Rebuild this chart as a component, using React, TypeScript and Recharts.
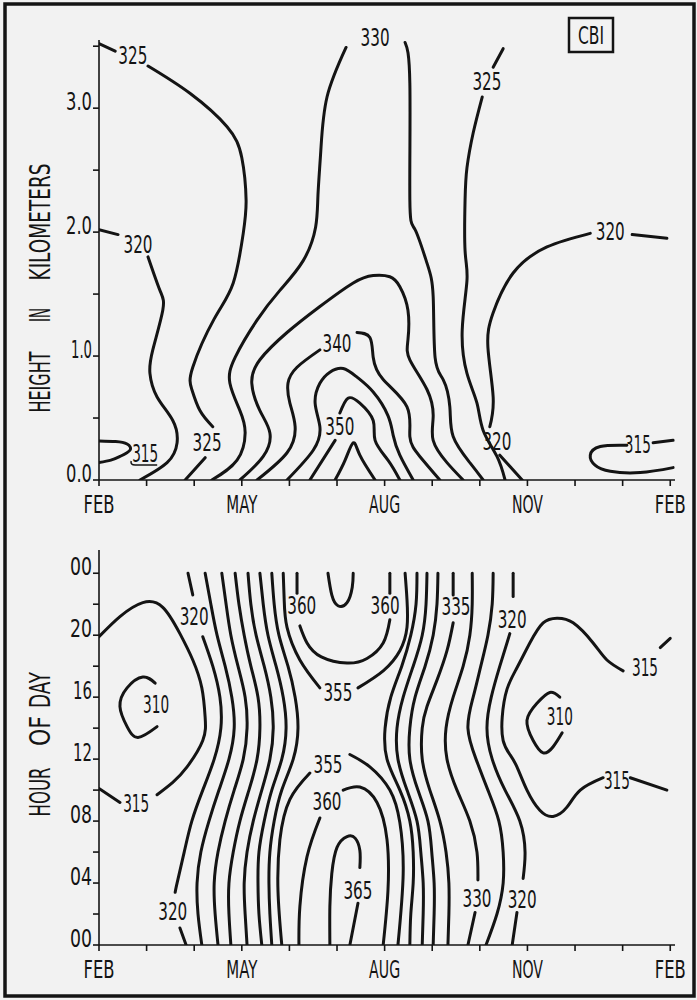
import React from 'react';
import { ComposedChart, Line, XAxis, YAxis, ReferenceDot } from 'recharts';

type P = [number, number];

const FONT = "'Liberation Sans Narrow', 'DejaVu Sans Condensed', 'Arial Narrow', sans-serif";
const INK = '#141414';
const BG = '#f2f2f2';

// x: months after FEB (0 = FEB, 3 = MAY, 6 = AUG, 9 = NOV, 12 = FEB)
const monthTicks = [0, 1, 2, 3, 4, 5, 6, 7, 8, 9, 10, 11, 12];
const monthLabels: Record<number, string> = { 0: 'FEB', 3: 'MAY', 6: 'AUG', 9: 'NOV', 12: 'FEB' };

const heightTicks = [0, 0.5, 1, 1.5, 2, 2.5, 3, 3.5];
const heightLabels: Record<number, string> = { 0: '0.0', 1: '1.0', 2: '2.0', 3: '3.0' };

const hourTicks = [0, 2, 4, 6, 8, 10, 12, 14, 16, 18, 20, 22, 24];
const hourLabels: Record<number, string> = { 0: '00', 4: '04', 8: '08', 12: '12', 16: '16', 20: '20', 24: '00' };

// ---------- TOP PANEL: height (km) contours ----------
const top320a: P[] = [[0, 2.02], [0.4, 1.98]];
const top320b: P[] = [[1.03, 1.8], [1.28, 1.53], [1.34, 1.37], [1.13, 1.05], [1.07, 0.86], [1.22, 0.67], [1.55, 0.48], [1.64, 0.3], [1.43, 0.14], [0.86, 0]];
const top315L: P[] = [[0, 0.315], [0.35, 0.31], [0.59, 0.29], [0.65, 0.24], [0.44, 0.19], [0.25, 0.16], [0, 0.14]];
const top325a: P[] = [[0, 3.52], [0.34, 3.46]];
const top325b: P[] = [[1.03, 3.34], [1.91, 3.12], [2.69, 2.85], [3.0, 2.6], [3.09, 2.26], [3.03, 1.99], [2.82, 1.59], [2.42, 1.3], [1.97, 0.91], [1.95, 0.73], [2.12, 0.56], [2.39, 0.43]];
const top325c: P[] = [[2.23, 0.18], [1.81, 0]];
const top330L: P[] = [[5.19, 3.49], [4.79, 3.09], [4.66, 2.66], [4.6, 2.3], [4.55, 2.04], [4.29, 1.77], [3.8, 1.53], [3.32, 1.29], [2.86, 0.99], [2.75, 0.78], [2.96, 0.56], [3.07, 0.38], [2.9, 0.16], [2.37, 0]];
const top330R: P[] = [[6.43, 3.53], [6.53, 3.2], [6.53, 2.26], [6.64, 2.02], [6.89, 1.75], [7.02, 1.48], [7.06, 0.99], [7.23, 0.81], [7.37, 0.59], [7.44, 0.35], [7.79, 0.14], [8.07, 0]];
const top335: P[] = [[2.96, 0], [3.45, 0.19], [3.59, 0.38], [3.38, 0.56], [3.21, 0.78], [3.38, 0.97], [3.95, 1.19], [4.64, 1.4], [5.34, 1.59], [5.76, 1.65], [6.11, 1.64], [6.32, 1.56], [6.49, 1.37], [6.49, 1.13], [6.53, 0.97], [6.89, 0.73], [7.02, 0.51], [7.02, 0.32], [7.31, 0.14], [7.65, 0]];
const top340a: P[] = [[3.32, 0], [3.95, 0.22], [4.12, 0.43], [4.01, 0.62], [3.97, 0.78], [4.16, 0.91], [4.64, 1.05]];
const top340b: P[] = [[5.42, 1.19], [5.69, 1.15], [5.76, 0.99], [5.97, 0.81], [6.47, 0.59], [6.53, 0.35], [6.74, 0.19], [7.16, 0]];
const top345: P[] = [[3.95, 0], [4.5, 0.24], [4.64, 0.43], [4.54, 0.62], [4.64, 0.78], [4.85, 0.87], [5.13, 0.9], [5.42, 0.83], [5.76, 0.71], [6.07, 0.52], [6.18, 0.36], [6.32, 0.2], [6.6, 0]];
const top350a: P[] = [[5.06, 0.54], [5.23, 0.66], [5.48, 0.62], [5.76, 0.48], [5.8, 0.32], [6.07, 0.16], [6.32, 0]];
const top350b: P[] = [[4.96, 0.32], [4.43, 0]];
const top355: P[] = [[4.96, 0], [5.17, 0.16], [5.34, 0.3], [5.48, 0.2], [5.8, 0]];
const top325Ra: P[] = [[8.49, 3.48], [8.28, 3.33]];
const top325Rb: P[] = [[8.05, 3.09], [7.86, 2.8], [7.73, 2.52], [7.69, 2.26], [7.69, 1.85], [7.73, 1.61], [7.63, 1.21], [7.73, 0.86], [7.94, 0.62], [8.07, 0.4], [8.36, 0.19], [8.53, 0]];
const top320Ra: P[] = [[8.89, 0], [8.42, 0.2]];
const top320Rb: P[] = [[8.21, 0.43], [8.28, 0.67], [8.17, 1.07], [8.28, 1.35], [8.7, 1.67], [9.41, 1.88], [10.32, 1.99]];
const top320Rc: P[] = [[11.2, 1.98], [11.93, 1.95]];
const top315Ra: P[] = [[12.06, 0.32], [11.64, 0.3]];
const top315Rb: P[] = [[11.09, 0.28], [10.53, 0.27], [10.32, 0.2], [10.42, 0.12], [10.74, 0.07], [11.37, 0.06], [12.06, 0.1]];

const topLines: P[][] = [
  top320a, top320b, top315L, top325a, top325b, top325c, top330L, top330R, top335,
  top340a, top340b, top345, top350a, top350b, top355, top325Ra, top325Rb,
  top320Ra, top320Rb, top320Rc, top315Ra, top315Rb,
];

const topLabelX = [0.71, 0.82, 0.97, 2.27, 5.8, 5.0, 5.06, 8.15, 8.36, 10.74, 11.32];
const topLabelY = [3.42, 1.9, 0.21, 0.3, 3.57, 1.1, 0.43, 3.21, 0.31, 2.0, 0.28];
const topLabelText = ['325', '320', '315', '325', '330', '340', '350', '325', '320', '320', '315'];
const topLabelUnderline = [false, false, true, false, false, false, false, false, false, false, false];

// ---------- BOTTOM PANEL: hour-of-day contours ----------
const bot315La: P[] = [[0, 19.9], [0.44, 21.2], [0.92, 22.1], [1.34, 21.8], [1.7, 20.1], [1.97, 18.4], [2.16, 16.6], [2.23, 14.7], [2.18, 13.2], [1.85, 11.5], [1.55, 10.5], [1.22, 9.7]];
const bot315Lb: P[] = [[0.44, 9.2], [0, 10.1]];
const bot310L: P[] = [[1.18, 16.9], [0.92, 17.3], [0.59, 16.6], [0.44, 15.4], [0.59, 14.1], [0.82, 13.4], [1.22, 14.1]];
const bot320La: P[] = [[1.87, 24], [1.97, 22.6]];
const bot320Lb: P[] = [[2.18, 19.9], [2.39, 18], [2.54, 16], [2.56, 14], [2.42, 12], [2.18, 10], [1.95, 8], [1.79, 6], [1.64, 4], [1.6, 3.4]];
const bot320Lc: P[] = [[1.7, 1.1], [1.83, 0]];
const bot325L: P[] = [[2.23, 24], [2.35, 22], [2.48, 20], [2.65, 18], [2.79, 16], [2.84, 14], [2.73, 12], [2.52, 10], [2.31, 8], [2.14, 6], [2.06, 4], [2.08, 2], [2.16, 0]];
const bot330L: P[] = [[2.58, 24], [2.67, 22], [2.77, 20], [2.92, 18], [3.07, 16], [3.11, 14], [3.03, 12], [2.84, 10], [2.65, 8], [2.5, 6], [2.42, 4], [2.44, 2], [2.5, 0]];
const bot335L: P[] = [[2.86, 24], [2.94, 22], [3.05, 20], [3.19, 18], [3.34, 16], [3.38, 14], [3.32, 12], [3.15, 10], [2.96, 8], [2.82, 6], [2.73, 4], [2.73, 2], [2.77, 0]];
const bot340L: P[] = [[3.13, 24], [3.19, 22], [3.3, 20], [3.47, 18], [3.61, 16], [3.66, 14], [3.59, 12], [3.42, 10], [3.24, 8], [3.11, 6], [3.05, 4], [3.07, 2], [3.11, 0]];
const bot345L: P[] = [[3.38, 24], [3.45, 22], [3.55, 20], [3.72, 18], [3.87, 16], [3.93, 14], [3.84, 12], [3.63, 10], [3.47, 8], [3.36, 6], [3.34, 4], [3.36, 2], [3.42, 0]];
const bot350L: P[] = [[3.63, 24], [3.68, 22], [3.78, 20], [3.97, 18], [4.12, 16], [4.18, 14], [4.08, 12], [3.84, 10], [3.68, 8], [3.59, 6], [3.57, 4], [3.59, 2], [3.63, 0]];
const bot355Ta: P[] = [[3.87, 24], [3.89, 22.3], [3.95, 20.5], [4.22, 18.4], [4.64, 16.6]];
const bot355Tb: P[] = [[5.44, 16.6], [5.97, 17.7], [6.32, 19], [6.47, 20.5], [6.47, 22.3], [6.43, 24]];
const bot360Ta: P[] = [[4.16, 24], [4.16, 22.7]];
const bot360Tb: P[] = [[4.22, 20.6], [4.37, 19.5], [4.67, 18.6], [5.21, 18.2], [5.63, 18.5], [5.97, 19.5], [6.11, 21.0]];
const bot360Tc: P[] = [[6.11, 22.7], [6.11, 24]];
const bot365T: P[] = [[4.81, 24], [4.89, 22.6], [5.02, 21.9], [5.21, 22.1], [5.32, 23.1], [5.34, 24]];
const bot355Ba: P[] = [[3.84, 0], [3.76, 3.5], [3.8, 6.8], [4.01, 9.4], [4.43, 11.1]];
const bot355Bb: P[] = [[5.27, 12.3], [5.69, 11.5], [6.11, 10], [6.32, 7.9], [6.39, 4.6], [6.28, 0]];
const bot360Ba: P[] = [[4.2, 0], [4.22, 2.5], [4.37, 5.7], [4.64, 8.2]];
const bot360Bb: P[] = [[5.13, 10], [5.48, 10.2], [5.84, 9.2], [6.05, 6.8], [6.07, 3.5], [5.97, 0]];
const bot365Ba: P[] = [[4.85, 0], [4.85, 2.5], [4.89, 4.6], [5.0, 6.3], [5.21, 7.0], [5.38, 6.9], [5.48, 6.1], [5.48, 5.0]];
const bot365Bb: P[] = [[5.44, 2.7], [5.27, 0]];
const bot350R: P[] = [[6.68, 24], [6.66, 22], [6.55, 20], [6.36, 18], [6.13, 16], [6.01, 14], [6.05, 12], [6.32, 10], [6.53, 8], [6.6, 6], [6.6, 4], [6.55, 2], [6.53, 0]];
const bot345R: P[] = [[6.89, 24], [6.87, 22], [6.79, 20], [6.6, 18], [6.39, 16], [6.26, 14], [6.28, 12], [6.47, 10], [6.68, 8], [6.76, 6], [6.81, 4], [6.81, 2], [6.79, 0]];
const bot340R: P[] = [[7.12, 24], [7.1, 22], [7.02, 20], [6.85, 18], [6.64, 16], [6.53, 14], [6.53, 12], [6.7, 10], [6.91, 8], [6.99, 6], [7.04, 4], [7.04, 2], [7.02, 0]];
const bot335Ra: P[] = [[7.44, 24], [7.44, 22.6]];
const bot335Rb: P[] = [[7.44, 20.8], [7.31, 19], [7.1, 17.1], [6.89, 15.4], [6.79, 14], [6.79, 12], [6.95, 10], [7.16, 8], [7.29, 6], [7.35, 4], [7.35, 2], [7.33, 0]];
const bot330Ra: P[] = [[7.84, 24], [7.84, 22], [7.79, 20], [7.65, 18], [7.44, 16], [7.29, 14], [7.31, 12], [7.52, 10], [7.79, 8], [7.94, 6], [7.96, 4.2]];
const bot330Rb: P[] = [[7.9, 2.1], [7.75, 0]];
const bot325R: P[] = [[8.28, 24], [8.26, 22], [8.17, 20], [8.02, 18], [7.86, 16], [7.75, 14], [7.92, 12], [8.17, 10], [8.4, 8], [8.49, 6], [8.49, 4], [8.36, 2], [8.13, 0]];
const bot320Ra: P[] = [[8.7, 24], [8.7, 22.5]];
const bot320Rb: P[] = [[8.63, 20.1], [8.42, 18], [8.24, 16], [8.15, 14], [8.26, 12], [8.53, 10], [8.84, 8], [8.95, 6], [8.91, 4.3]];
const bot320Rc: P[] = [[8.78, 2.1], [8.68, 0]];
const bot315Ra: P[] = [[12.0, 19.8], [11.79, 19.2]];
const bot315Rb: P[] = [[11.01, 17.7], [10.67, 18.4], [10.38, 19.5], [9.96, 20.8], [9.62, 21.1], [9.33, 20.8], [9.05, 19.5], [8.78, 17.9], [8.57, 16.5], [8.47, 14.7], [8.49, 13.2], [8.63, 12.3], [8.78, 11.5], [8.99, 10], [9.26, 8.7], [9.54, 8.3], [9.83, 8.9], [10.11, 10], [10.59, 10.8]];
const bot315Rc: P[] = [[11.16, 10.8], [11.93, 10.0]];
const bot310R: P[] = [[9.68, 16], [9.47, 16.3], [9.2, 15.6], [8.99, 14.5], [9.12, 13.2], [9.33, 12.4], [9.54, 12.8], [9.73, 13.7]];

const botLines: P[][] = [
  bot315La, bot315Lb, bot310L, bot320La, bot320Lb, bot320Lc, bot325L, bot330L, bot335L, bot340L,
  bot345L, bot350L, bot355Ta, bot355Tb, bot360Ta, bot360Tb, bot360Tc, bot365T, bot355Ba, bot355Bb,
  bot360Ba, bot360Bb, bot365Ba, bot365Bb, bot350R, bot345R, bot340R, bot335Ra, bot335Rb, bot330Ra,
  bot330Rb, bot325R, bot320Ra, bot320Rb, bot320Rc, bot315Ra, bot315Rb, bot315Rc, bot310R,
];

const botLabelX = [2.0, 1.2, 0.78, 1.55, 4.26, 6.01, 7.5, 8.68, 5.02, 4.81, 4.79, 5.44, 7.94, 8.89, 9.68, 11.47, 10.88];
const botLabelY = [21.2, 15.5, 9.1, 2.1, 21.9, 21.9, 21.8, 21.0, 16.3, 11.6, 9.2, 3.5, 3.0, 2.9, 14.7, 17.9, 10.6];
const botLabelText = ['320', '310', '315', '320', '360', '360', '335', '320', '355', '355', '360', '365', '330', '320', '310', '315', '315'];

const toPts = (a: P[]) => a.map(([x, y]) => ({ x, y }));

const MonthTick = (props: any) => {
  const { x, y, payload } = props;
  const lab = monthLabels[payload.value];
  if (!lab) return <g />;
  return (
    <text x={x} y={y + 25} textAnchor="middle" fontSize={25} fill={INK} fontFamily={FONT}
      textLength={31} lengthAdjust="spacingAndGlyphs">{lab}</text>
  );
};

const makeYTick = (labels: Record<number, string>) => (props: any) => {
  const { x, y, payload } = props;
  const lab = labels[payload.value];
  if (!lab) return <g />;
  const len = lab.length === 3 ? (lab.startsWith('1') ? 21 : 26) : (lab.includes('1') ? 19 : 22);
  return (
    <text x={x + 1} y={y + 2} textAnchor="end" fontSize={25} fill={INK} fontFamily={FONT}
      textLength={len} lengthAdjust="spacingAndGlyphs">{lab}</text>
  );
};

const renderContourLabel = (t: string, underline: boolean) => (p: any) => {
  const { cx, cy } = p;
  const len = t.includes('1') ? 26 : 29;
  return (
    <g>
      <text x={cx} y={cy} textAnchor="middle" dominantBaseline="central" fontSize={24}
        fill={INK} fontFamily={FONT} textLength={len} lengthAdjust="spacingAndGlyphs">{t}</text>
      {underline ? (
        <path d={`M ${cx - 14} ${cy + 7} Q ${cx - 15} ${cy + 11} ${cx - 10} ${cy + 11} L ${cx + 12} ${cy + 11}`}
          fill="none" stroke={INK} strokeWidth={1.5} />
      ) : null}
    </g>
  );
};

const axisStyle = { stroke: INK, strokeWidth: 1.6 };

function Panel(props: {
  lines: P[][]; lx: number[]; ly: number[]; lt: string[]; lu?: boolean[];
  yDomain: [number, number]; yTicks: number[]; yLabels: Record<number, string>;
  height: number; margin: any;
}) {
  const { lines, lx, ly, lt, lu, yDomain, yTicks, yLabels, height, margin } = props;
  return (
    <ComposedChart width={697} height={height} margin={margin}>
      <XAxis type="number" dataKey="x" domain={[0, 12.1]} ticks={monthTicks} interval={0}
        allowDataOverflow height={30} tick={MonthTick} tickSize={6}
        axisLine={axisStyle} tickLine={axisStyle} />
      <YAxis type="number" domain={yDomain} ticks={yTicks} interval={0} allowDataOverflow
        width={99} tick={makeYTick(yLabels)} tickSize={6} axisLine={axisStyle} tickLine={axisStyle} />
      {lines.map((l, i) => (
        <Line key={'l' + i} data={toPts(l)} dataKey="y" type="natural" stroke={INK}
          strokeWidth={3} dot={false} activeDot={false} isAnimationActive={false}
          strokeLinecap="round" legendType="none" />
      ))}
      {lx.map((x, i) => (
        <ReferenceDot key={'t' + i} x={x} y={ly[i]} r={0} ifOverflow="visible"
          shape={renderContourLabel(lt[i], lu ? lu[i] : false)} />
      ))}
    </ComposedChart>
  );
}

const rotWord = (w: string, cx: number, cy: number, len: number, key: string) => (
  <text key={key} transform={`translate(${cx},${cy}) rotate(-90)`} textAnchor="middle"
    dominantBaseline="central" fontSize={28} fill={INK} fontFamily={FONT}
    textLength={len} lengthAdjust="spacingAndGlyphs">{w}</text>
);

export default function App() {
  return (
    <div style={{ position: 'absolute', left: 0, top: 0, width: 697, height: 1000, background: BG, fontFamily: FONT }}>
      <div style={{ position: 'absolute', left: 0, top: 0 }}>
        <Panel lines={topLines} lx={topLabelX} ly={topLabelY} lt={topLabelText} lu={topLabelUnderline}
          yDomain={[0, 3.55]} yTicks={heightTicks} yLabels={heightLabels} height={520}
          margin={{ top: 40, right: 22, bottom: 10, left: 0 }} />
      </div>
      <div style={{ position: 'absolute', left: 0, top: 500 }}>
        <Panel lines={botLines} lx={botLabelX} ly={botLabelY} lt={botLabelText}
          yDomain={[0, 25.5]} yTicks={hourTicks} yLabels={hourLabels} height={500}
          margin={{ top: 50, right: 22, bottom: 25, left: 0 }} />
      </div>
      <svg width={697} height={1000} style={{ position: 'absolute', left: 0, top: 0, pointerEvents: 'none' }}>
        <rect x={5} y={4} width={689} height={992} fill="none" stroke={INK} strokeWidth={3.5} />
        <rect x={569} y={18} width={44} height={34} fill="none" stroke={INK} strokeWidth={2.5} />
        <text x={591} y={35} textAnchor="middle" dominantBaseline="central" fontSize={25}
          fill={INK} fontFamily={FONT} textLength={26} lengthAdjust="spacingAndGlyphs">CBI</text>
        {rotWord('HEIGHT', 40, 382, 61, 'w1')}
        {rotWord('IN', 40, 315, 14, 'w2')}
        {rotWord('KILOMETERS', 40, 222, 117, 'w3')}
        {rotWord('HOUR', 40, 792, 49, 'w4')}
        {rotWord('OF', 40, 731, 30, 'w5')}
        {rotWord('DAY', 40, 690, 36, 'w6')}
      </svg>
    </div>
  );
}
